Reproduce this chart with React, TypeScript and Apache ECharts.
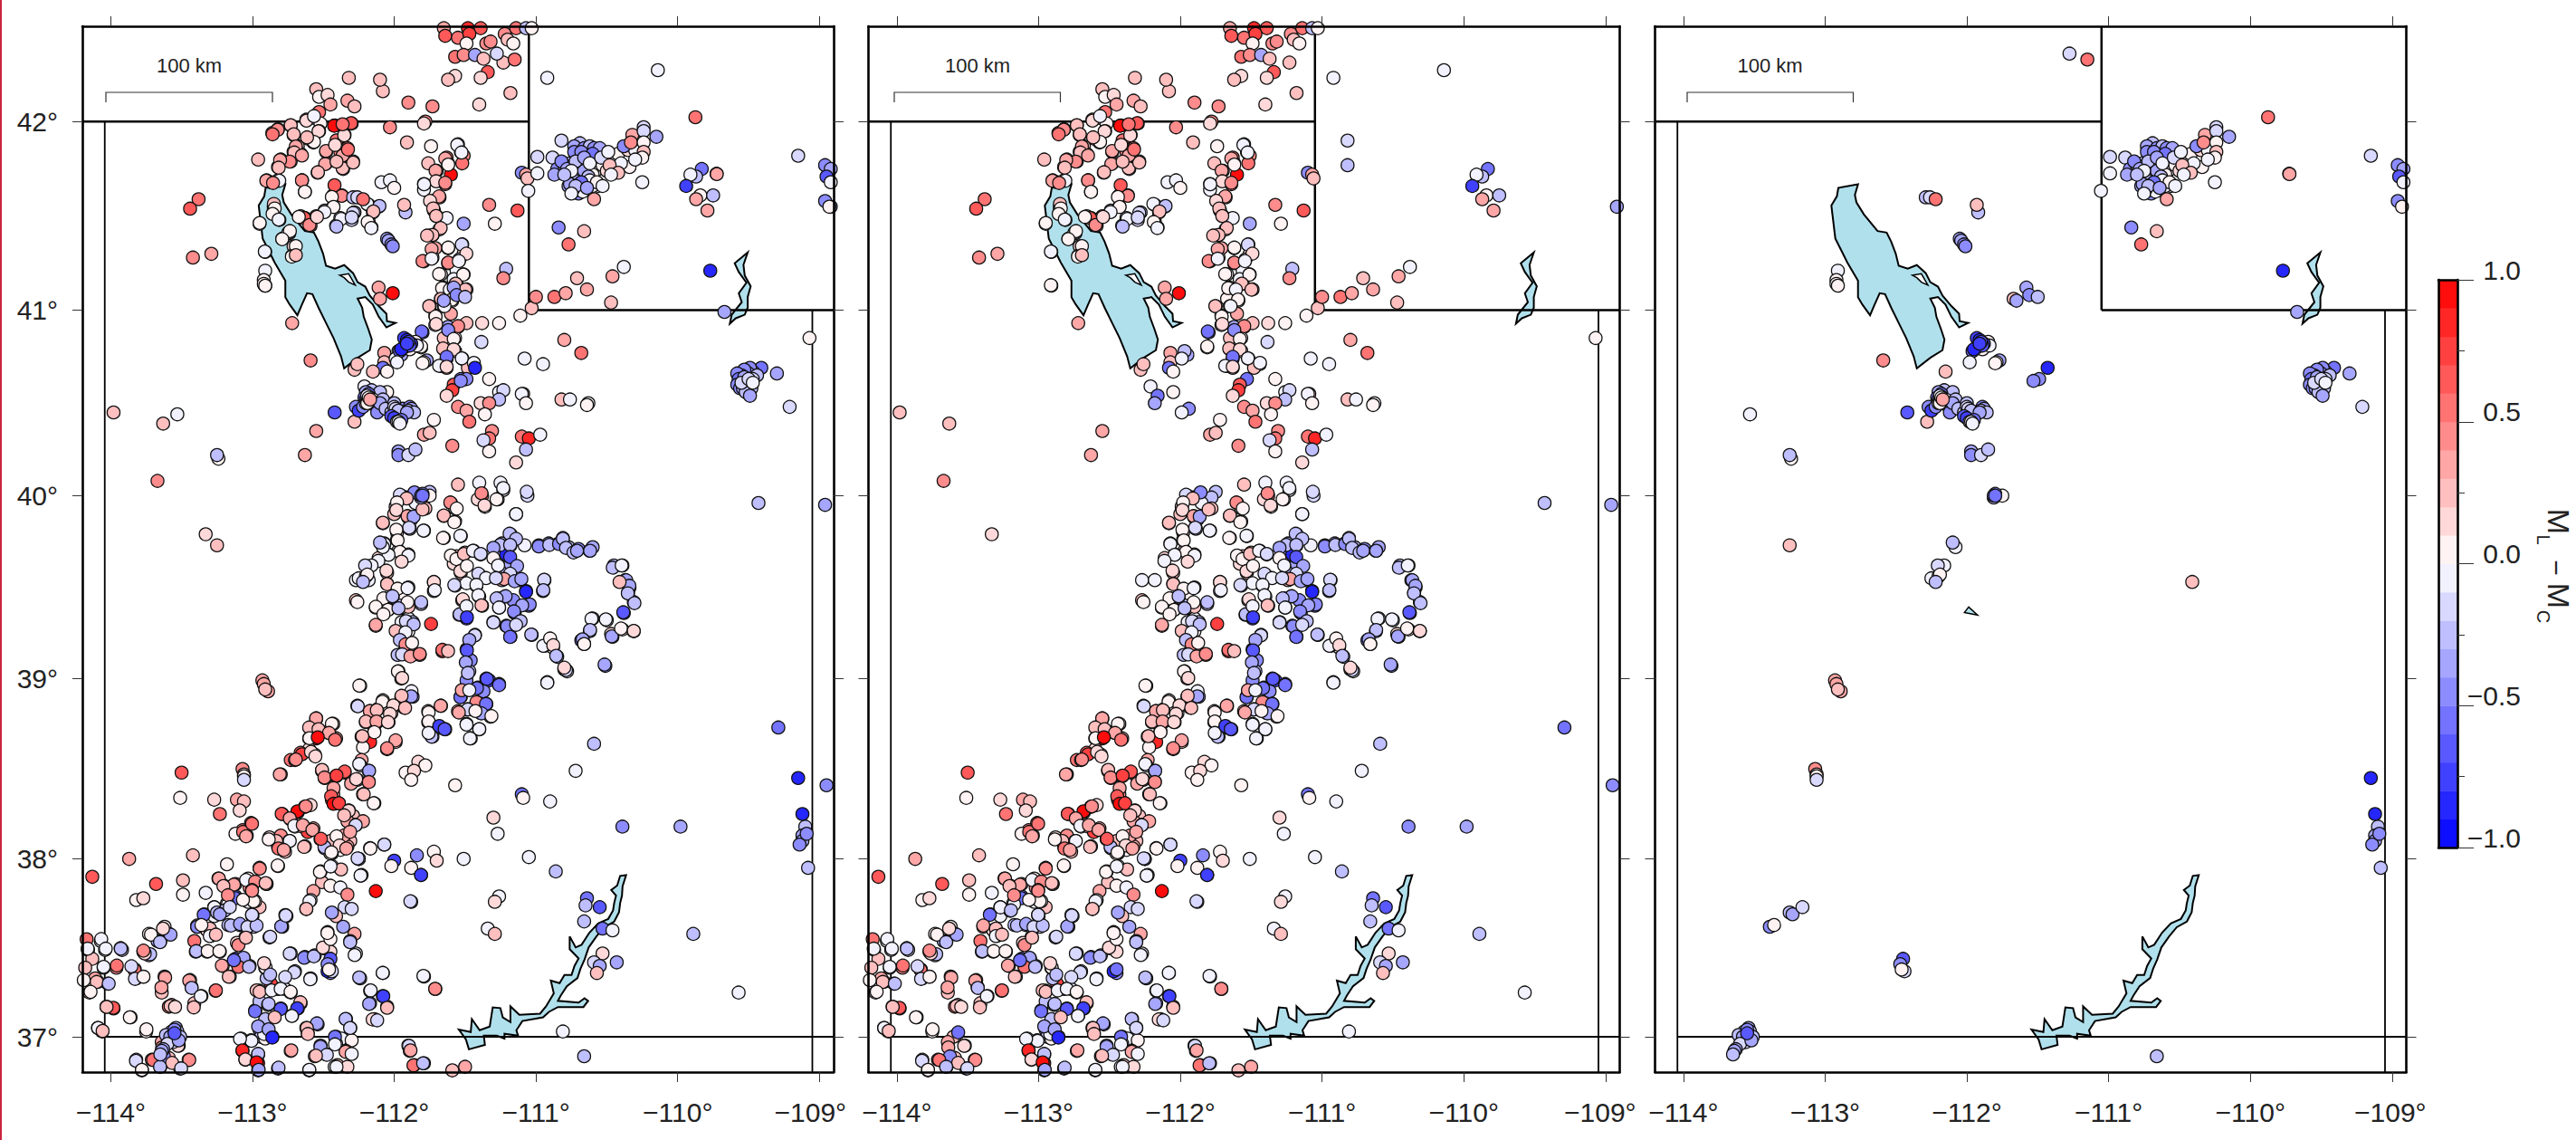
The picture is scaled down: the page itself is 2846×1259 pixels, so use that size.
import React, { useEffect, useRef } from "react";
import * as echarts from "echarts";

const lonTicks = [-114, -113, -112, -111, -110, -109];
const latTicks = [37, 38, 39, 40, 41, 42];
const colorbarTicks = [-1, -0.5, 0, 0.5, 1];
const colorbarEdges = [-1, -0.9, -0.8, -0.7, -0.6, -0.5, -0.4, -0.3, -0.2, -0.1, 0, 0.1, 0.2, 0.3, 0.4, 0.5, 0.6, 0.7, 0.8, 0.9, 1];

const greatSaltLake = [[-112.907,41.65],[-112.768,41.669],[-112.79,41.613],[-112.779,41.573],[-112.726,41.509],[-112.63,41.421],[-112.566,41.413],[-112.534,41.365],[-112.502,41.301],[-112.481,41.237],[-112.417,41.221],[-112.353,41.24],[-112.29,41.197],[-112.258,41.149],[-112.204,41.125],[-112.172,41.077],[-112.109,41.021],[-112.055,40.98],[-112.051,40.94],[-111.991,40.931],[-112.055,40.907],[-112.109,40.964],[-112.151,41.029],[-112.204,41.069],[-112.258,41.061],[-112.226,41.013],[-112.215,40.964],[-112.183,40.899],[-112.158,40.842],[-112.172,40.785],[-112.258,40.744],[-112.353,40.687],[-112.375,40.752],[-112.428,40.85],[-112.481,40.931],[-112.534,41.013],[-112.577,41.085],[-112.615,41.09],[-112.651,41.029],[-112.683,40.972],[-112.737,41.029],[-112.768,41.069],[-112.768,41.157],[-112.843,41.253],[-112.928,41.381],[-112.956,41.557],[-112.917,41.605]];
const saltLakeIsland = [[-112.385,41.186],[-112.321,41.194],[-112.275,41.133],[-112.321,41.149],[-112.353,41.173]];
const lakePowell = [[-110.364,37.909],[-110.389,37.846],[-110.393,37.795],[-110.406,37.753],[-110.414,37.701],[-110.448,37.649],[-110.519,37.618],[-110.573,37.566],[-110.628,37.504],[-110.657,37.436],[-110.686,37.384],[-110.707,37.332],[-110.782,37.286],[-110.824,37.234],[-110.845,37.203],[-110.699,37.193],[-110.657,37.218],[-110.632,37.203],[-110.665,37.168],[-110.845,37.168],[-110.908,37.141],[-110.95,37.11],[-111.096,37.089],[-111.138,37.037],[-111.126,37.006],[-111.222,37.017],[-111.222,36.99],[-111.276,37.006],[-111.368,37.006],[-111.36,36.954],[-111.473,36.929],[-111.494,36.985],[-111.544,37.041],[-111.46,37.027],[-111.452,37.1],[-111.397,37.037],[-111.326,37.058],[-111.305,37.166],[-111.251,37.162],[-111.234,37.11],[-111.18,37.083],[-111.18,37.172],[-111.117,37.124],[-110.971,37.131],[-110.929,37.172],[-110.874,37.245],[-110.895,37.317],[-110.833,37.303],[-110.799,37.349],[-110.749,37.349],[-110.728,37.4],[-110.699,37.442],[-110.762,37.494],[-110.762,37.566],[-110.72,37.504],[-110.678,37.519],[-110.623,37.587],[-110.561,37.639],[-110.49,37.664],[-110.456,37.712],[-110.448,37.753],[-110.435,37.795],[-110.469,37.826],[-110.427,37.851],[-110.406,37.905]];
const flamingGorge = [[-109.506,41.307],[-109.598,41.25],[-109.569,41.203],[-109.515,41.146],[-109.569,41.089],[-109.548,41.042],[-109.619,40.975],[-109.632,40.927],[-109.59,40.956],[-109.527,40.975],[-109.506,41.013],[-109.506,41.07],[-109.485,41.127],[-109.527,41.184],[-109.536,41.241]];
const smallReservoir = [[-112.017,39.363],[-111.987,39.393],[-111.925,39.349]];

const borderNorth = [[-114.3,42],[-111.05,42]];
const borderWyomingWest = [[-111.05,42.6],[-111.05,41]];
const borderWyomingSouth = [[-111.05,41],[-108.8,41]];
const borderWest = [[-114.042,42],[-114.042,36.7]];
const borderEast = [[-109.05,41],[-109.05,36.7]];
const borderSouth = [[-114.042,37],[-108.8,37]];

const tectonicNorth: number[][] = [[-111.65,42.49,.3],[-111.64,42.45,.6],[-111.55,42.44,.5],[-111.48,42.49,.8],[-111.39,42.49,.6],[-111.47,42.46,.7],[-111.49,42.41,.05],[-111.35,42.41,.4],[-111.32,42.42,.4],[-111.22,42.46,.4],[-111.2,42.43,.25],[-111.16,42.41,.05],[-111.14,42.49,.5],[-111.07,42.49,-.3],[-111.03,42.49,.05],[-111.57,42.34,.5],[-111.51,42.35,.4],[-111.43,42.35,-.4],[-111.37,42.33,.2],[-111.23,42.31,.25],[-111.34,42.26,.6],[-111.39,42.23,.1],[-111.57,42.24,.1],[-111.62,42.22,.25],[-111.18,42.15,.2],[-111.4,42.09,.15],[-111.73,42.08,.4],[-111.9,42.1,.45],[-112.08,42.16,.2],[-112.1,42.22,.2],[-112.32,42.23,.2],[-112.55,42.17,.2],[-112.53,42.13,.05],[-112.47,42.14,.15],[-112.45,42.09,.3],[-112.33,42.11,.3],[-112.28,42.08,.2],[-112.53,42.05,.5],[-112.57,42.02,-.15],[-112.62,42.01,.25],[-112.52,41.99,.05],[-112.73,41.98,.15],[-112.82,41.96,.4],[-112.86,41.94,.5],[-112.71,41.93,.2],[-112.53,41.95,.05],[-112.61,41.91,.2],[-112.57,41.89,.05],[-112.68,41.87,.2],[-112.71,41.84,.2],[-112.66,41.83,.3],[-112.8,41.8,.3],[-112.73,41.79,.4],[-112.82,41.76,.2],[-112.96,41.8,.2],[-112.9,41.69,.3],[-112.87,41.68,.3],[-112.82,41.69,-.05],[-112.65,41.69,.4],[-112.63,41.63,.05],[-112.42,41.98,.8],[-112.36,41.98,.5],[-112.3,41.99,.6],[-112.35,41.93,.15],[-112.4,41.9,.55],[-112.41,41.88,.05],[-112.33,41.86,.55],[-112.48,41.84,.3],[-112.38,41.84,.4],[-112.36,41.82,.3],[-112.29,41.79,.15],[-112.48,41.78,.25],[-112.54,41.73,.15],[-112.36,41.75,.2],[-112.03,41.97,.45],[-111.78,42,.45],[-111.79,41.99,.15],[-111.91,41.89,.2],[-111.74,41.87,.05],[-111.55,41.88,-.1],[-111.53,41.84,-.05],[-111.51,41.82,.4],[-111.63,41.81,.5],[-111.52,41.78,.55],[-111.62,41.78,.05],[-111.76,41.78,.2],[-111.7,41.74,.3],[-111.6,41.72,.9],[-111.64,41.67,.5],[-111.79,41.67,-.05],[-111.79,41.64,-.05],[-111.68,41.6,.4],[-111.74,41.58,.1],[-111.72,41.53,.25],[-111.7,41.5,.3],[-111.63,41.49,-.1],[-111.51,41.46,-.4],[-111.68,41.43,.15],[-111.73,41.4,.2],[-111.52,41.35,-.25],[-111.62,41.33,.05],[-111.51,41.3,.15],[-111.71,41.33,.3],[-111.79,41.26,.45],[-111.73,41.28,-.1],[-111.54,41.27,-.1],[-111.62,41.25,.4],[-111.56,41.21,-.1],[-111.51,41.19,.05],[-111.67,41.19,.05],[-111.56,41.14,.2],[-111.49,41.11,.25],[-111.65,41.12,-.02],[-111.62,41.11,.05],[-111.67,41.06,.05],[-111.59,41.05,.05],[-111.65,41.02,-.1],[-111.75,41.02,.2],[-111.6,40.98,.3],[-111.71,40.97,.05],[-111.71,40.92,.05],[-111.62,40.91,-.4],[-111.55,40.91,.45],[-111.49,40.93,.25],[-111.8,40.88,-.55],[-111.81,40.8,.1],[-111.57,40.85,.05],[-111.65,40.85,.25],[-111.57,40.78,.15],[-111.65,40.79,.2],[-111.63,40.74,-.55],[-111.52,40.74,-.15],[-111.44,40.71,-.05],[-111.67,40.7,-.02],[-111.63,40.69,.1],[-111.48,40.69,.25],[-111.53,40.63,-.55],[-111.58,40.6,.6],[-111.59,40.57,.7],[-111.63,40.54,.1],[-111.33,40.63,.05],[-111.26,40.56,-.05],[-111.23,40.57,-.2],[-111.26,40.52,-.25],[-111.39,40.5,.1],[-111.33,40.5,.4],[-111.36,40.44,.05],[-111.55,40.48,.45],[-111.49,40.46,.35],[-111.47,40.4,.5],[-111.72,40.41,.05],[-111.79,40.33,.3],[-111.75,40.34,.25],[-111.59,40.27,.45],[-111.31,40.35,.4],[-111.33,40.31,.5],[-111.37,40.3,-.2],[-111.33,40.24,.05],[-111.1,40.32,.5],[-111.05,40.31,.8],[-110.97,40.33,-.02],[-111.07,40.25,-.3],[-111.14,40.18,.1],[-111.09,40.55,.2],[-111.1,40.55,-.1],[-111.07,40.5,.02],[-110.82,40.52,.2],[-110.76,40.52,-.05],[-110.63,40.5,-.05],[-110.64,40.49,.02],[-111.08,40.74,-.05],[-110.95,40.71,-.05],[-110.8,40.84,.35],[-110.68,40.77,.55],[-111.38,40.93,.15],[-111.26,40.93,.05],[-111.11,40.97,.05],[-111.03,41.01,.2],[-111,41.07,.45],[-110.87,41.07,.55],[-110.79,41.09,.3],[-110.64,41.11,.3],[-110.71,41.17,.2],[-110.46,41.18,.3],[-110.38,41.23,-.05],[-110.47,41.04,.25],[-109.07,40.85,.05],[-111.21,41.22,-.25],[-111.23,41.17,.4],[-111.33,41.56,.4],[-111.13,41.53,.65],[-111.29,41.46,.05],[-111.1,41.73,-.5],[-111.07,41.72,.35],[-111.06,41.7,.2],[-110.92,42.23,-.1],[-110.14,42.27,-.02],[-110.82,41.9,-.15],[-110.82,41.77,-.25],[-109.83,41.75,-.55],[-109.87,41.71,-.25],[-109.91,41.72,-.05],[-109.94,41.66,-.75],[-109.84,41.61,.05],[-109.75,41.61,-.25],[-109.87,41.59,.3],[-109.79,41.53,.35],[-108.92,41.55,-.35],[-113.38,41.59,.5],[-113.44,41.54,.6],[-113.29,41.3,.3],[-113.42,41.28,.4],[-112.95,41.46,.05],[-112.91,41.31,-.05],[-112.91,41.13,.02],[-112.72,40.93,.35],[-112.85,41.55,.2],[-112.85,41.53,.1],[-112.81,41.48,-.1],[-112.66,41.5,.15],[-112.63,41.49,.6],[-112.59,41.45,.4],[-112.55,41.5,.15],[-112.49,41.53,-.1],[-112.43,41.55,.05],[-112.43,41.61,.05],[-112.37,41.61,.4],[-112.38,41.49,-.1],[-112.41,41.45,-.25],[-112.28,41.52,-.25],[-112.3,41.48,-.2],[-112.18,41.56,-.05],[-112.11,41.55,-.3],[-112.15,41.52,.25],[-112.18,41.47,.05],[-112.16,41.44,-.1],[-112.09,41.68,-.02],[-112.03,41.69,-.05],[-112,41.65,.02],[-112.74,41.41,.03],[-112.79,41.38,.1],[-112.71,41.34,.1],[-112.72,41.29,.03],[-112.11,41.12,.3],[-112.1,41.06,.3],[-112.01,41.09,.9],[-112.28,40.68,.2],[-112.26,40.71,.25],[-112.07,40.77,.35],[-112.07,40.72,.2],[-112.08,40.69,-.6],[-112.05,40.67,.05],[-111.95,40.76,-.35],[-111.97,40.78,-.3],[-111.99,40.74,-.05],[-112.21,40.59,-.1],[-112.16,40.54,-.6],[-112.18,40.5,-.35],[-112.05,40.56,.05],[-111.94,40.47,-.45],[-111.99,40.45,-.02],[-112.55,40.35,.3],[-112.63,40.22,.35],[-113.63,40.39,.2],[-113.98,40.45,.2],[-113.67,40.08,.4],[-113.33,39.79,.15]];

const tectonicNorthExtra: number[][] = [[-111.708,41.741,.3],[-111.64,41.805,.35],[-111.555,41.877,-.08],[-111.525,41.837,-.05],[-111.619,41.773,.05],[-111.704,41.685,.1],[-111.64,41.677,.4],[-111.789,41.669,-.1],[-111.683,41.605,.35],[-111.747,41.581,.1],[-111.725,41.541,.2],[-111.704,41.501,.2],[-111.672,41.437,.2],[-111.73,41.4,.2],[-111.768,41.397,.2],[-111.736,41.325,.3],[-111.619,41.333,.05],[-111.523,41.349,-.2],[-111.491,41.301,.1],[-111.8,41.261,.4],[-111.736,41.274,-.1],[-111.619,41.253,.4],[-111.544,41.261,-.1],[-111.683,41.192,.05],[-111.581,41.165,-.1],[-111.513,41.189,.05],[-111.566,41.141,.2],[-111.498,41.109,.25],[-111.662,41.117,.05],[-111.608,41.109,-.05],[-111.593,41.056,.05],[-111.753,41.021,.2],[-111.645,41.021,-.08],[-111.708,40.965,.05],[-111.704,40.925,.1],[-111.549,40.914,.45],[-111.619,40.893,-.5],[-111.806,40.885,-.55],[-111.58,40.845,.05],[-111.385,40.829,-.2],[-111.81,40.805,.05],[-111.655,40.794,.25],[-111.58,40.789,.1],[-111.523,40.741,-.08],[-111.63,40.749,-.55],[-111.438,40.717,-.1],[-111.683,40.701,-.05],[-111.63,40.696,.1],[-112.822,41.957,.4],[-112.858,41.933,.5],[-112.73,41.981,.2],[-112.709,41.933,.25],[-112.619,42.005,.1],[-112.566,42.029,-.1],[-112.534,41.949,.1],[-112.566,41.893,.08],[-112.615,41.917,.2],[-112.694,41.869,.3],[-112.705,41.837,.25],[-112.651,41.821,.35],[-112.737,41.789,.45],[-112.805,41.797,.3],[-112.815,41.757,.2],[-112.481,41.845,.35],[-112.487,41.776,.3],[-112.538,41.733,.25],[-112.364,41.754,.2],[-112.29,41.784,.2],[-112.364,41.821,.3],[-112.326,41.853,.5],[-112.407,41.901,.55],[-112.353,41.928,.15],[-112.424,41.978,.9],[-112.304,41.992,.6],[-112.364,41.986,.5],[-112.417,41.877,.1],[-112.407,41.789,.2],[-112.902,41.688,.35],[-112.811,41.688,-.08],[-112.855,41.676,.4],[-112.651,41.69,.4],[-112.63,41.629,.05],[-112.421,41.664,.6],[-112.37,41.608,.45],[-112.44,41.602,.05],[-112.428,41.549,.05],[-112.492,41.522,-.05],[-112.636,41.49,.6],[-112.598,41.453,.45],[-112.673,41.496,.05],[-112.545,41.496,.15],[-112.29,41.517,-.2],[-112.374,41.485,-.1],[-112.3,41.493,-.15],[-112.407,41.445,-.25],[-112.19,41.565,-.05],[-112.104,41.554,-.3],[-112.147,41.525,.25],[-112.187,41.469,.05],[-112.162,41.437,-.1],[-112.849,41.565,.2],[-112.843,41.541,.08],[-112.858,41.512,.05],[-112.815,41.482,-.1],[-112.949,41.464,.05],[-112.747,41.413,.05],[-112.736,41.421,.02],[-112.79,41.378,.05],[-112.694,41.341,.05],[-112.722,41.285,.05],[-112.694,41.293,.2],[-112.913,41.312,-.05],[-112.913,41.133,.02]];

const tectonicCentral: number[][] = [[-111.55,40.06,.2],[-111.4,40.07,-.05],[-111.25,40.07,-.05],[-111.23,40.03,-.05],[-111.06,40,-.15],[-111.38,40,.5],[-111.27,39.98,.05],[-111.41,39.98,.1],[-111.36,39.94,.05],[-111.14,39.9,-.02],[-111.6,39.96,.4],[-111.57,39.93,.05],[-111.65,39.89,.25],[-111.57,39.86,.1],[-111.53,39.78,.02],[-111.65,39.77,.05],[-111.75,40.02,-.3],[-111.85,40,-.5],[-111.78,39.99,-.25],[-111.95,40,-.25],[-111.91,39.99,.25],[-111.85,39.96,-.1],[-111.99,39.94,.1],[-111.78,39.93,.2],[-111.99,39.91,.05],[-112,39.9,.2],[-111.9,39.88,.35],[-111.88,39.87,-.4],[-112.08,39.85,.2],[-111.98,39.8,.1],[-111.89,39.82,-.25],[-111.79,39.81,-.1],[-112.07,39.74,-.05],[-111.98,39.76,.05],[-111.97,39.7,.1],[-112.04,39.68,-.05],[-111.9,39.68,.1],[-112.11,39.66,.1],[-111.56,39.67,.1],[-111.5,39.69,.2],[-111.44,39.7,-.1],[-111.39,39.68,-.2],[-111.18,39.79,-.45],[-111.24,39.74,-.3],[-111.18,39.73,-.35],[-111.26,39.71,-.35],[-111.21,39.68,-.85],[-111.08,39.73,-.05],[-110.98,39.73,-.55],[-110.91,39.74,-.35],[-110.84,39.74,-.6],[-110.81,39.77,-.3],[-110.77,39.72,-.25],[-110.7,39.71,-.45],[-110.62,39.7,-.5],[-110.6,39.72,-.35],[-109.43,39.96,-.3],[-108.96,39.95,-.35],[-110.45,39.62,-.25],[-110.39,39.62,-.05],[-110.37,39.54,-.35],[-110.34,39.5,-.5],[-110.35,39.47,-.3],[-110.31,39.42,-.3],[-110.38,39.36,-.75],[-110.5,39.32,-.02],[-110.6,39.33,-.05],[-110.62,39.26,-.25],[-110.68,39.21,-.55],[-110.66,39.19,.05],[-110.46,39.23,-.45],[-110.39,39.27,.1],[-110.31,39.26,.2],[-110.51,39.07,-.5],[-110.92,38.98,-.05],[-110.78,39.04,-.1],[-110.8,39.05,.1],[-110.85,39.12,-.3],[-110.88,39.17,.05],[-110.9,39.21,.1],[-110.94,39.18,-.05],[-111.03,39.24,-.15],[-111.18,39.23,-.7],[-111.21,39.29,-.55],[-111.15,39.36,-.55],[-111.3,39.31,-.3],[-111.05,39.4,-.6],[-111.16,39.43,-.45],[-111.07,39.48,-.9],[-111.11,39.54,-.45],[-110.94,39.54,-.15],[-110.95,39.48,-.35],[-111.22,39.45,-.5],[-111.27,39.44,-.5],[-111.26,39.39,-.05],[-111.22,39.61,-.3],[-111.18,39.63,-.4],[-111.24,39.54,.2],[-111.38,39.4,.4],[-111.4,39.45,-.02],[-111.52,39.43,.3],[-111.57,39.51,-.2],[-111.42,39.51,-.1],[-111.4,39.57,-.2],[-111.53,39.58,.2],[-111.58,39.63,.1],[-111.54,39.35,-.25],[-111.49,39.33,-.7],[-111.74,39.3,.7],[-111.72,39.53,.3],[-111.72,39.48,-.05],[-111.81,39.41,-.2],[-111.9,39.4,.45],[-111.99,39.43,-.3],[-111.9,39.33,-.1],[-111.92,39.31,-.2],[-111.87,39.31,-.3],[-112.13,39.29,.3],[-111.9,39.26,.05],[-111.97,39.26,.2],[-111.95,39.21,-.25],[-111.9,39.19,.1],[-111.94,39.14,-.15],[-111.88,39.13,.3],[-111.82,39.13,.45],[-112.05,39.58,.2],[-112.05,39.52,.15],[-111.9,39.5,.05],[-111.95,39.47,.05],[-112.01,39.45,.1],[-112.07,39.44,.02],[-112.13,39.39,.05],[-112.04,39.38,.05],[-112.27,39.54,-.05],[-112.18,39.54,-.05],[-112.27,39.43,.2],[-112.26,39.42,.05],[-111.66,39.15,.6],[-111.49,39.16,-.7],[-111.46,39.1,-.5],[-111.43,39.24,-.2],[-111.47,39.04,-.3],[-111.35,39,-.7],[-111.33,38.99,-.75],[-111.26,38.97,-.6],[-111.41,38.95,-.7],[-111.37,38.93,-.5],[-111.49,38.99,-.45],[-111.52,38.93,.35],[-111.53,38.9,-.75],[-111.35,38.86,-.6],[-111.42,38.87,.4],[-111.48,38.83,-.2],[-111.55,38.82,.35],[-111.39,38.81,-.4],[-111.32,38.79,.05],[-111.49,38.75,-.02],[-111.4,38.72,-.02],[-111.46,38.67,-.02],[-111.67,38.85,.5],[-111.76,38.82,.05],[-111.76,38.76,.05],[-111.64,38.72,-.7],[-111.68,38.73,-.5],[-111.73,38.68,-.25],[-111.97,39.04,.05],[-111.95,39,.15],[-112.24,38.96,.05],[-111.87,38.9,-.4],[-111.95,38.9,.2],[-112.08,38.88,.05],[-112.26,38.85,-.25],[-111.93,38.84,.2],[-112.02,38.81,.1],[-112.12,38.83,.2],[-112.17,38.82,.25],[-112.04,38.76,.15],[-112.12,38.76,.3],[-112.2,38.76,.3],[-112.14,38.71,.05],[-112.23,38.68,.2],[-112.17,38.65,.8],[-112.22,38.62,.05],[-111.99,38.65,.25],[-112.05,38.61,.4],[-112.23,38.55,.3],[-112.24,38.52,-.05],[-112.18,38.49,-.45],[-111.83,38.54,.15],[-111.78,38.52,.05],[-111.92,38.48,.05],[-111.86,38.49,.1],[-111.88,38.44,.05],[-111.57,38.41,.05],[-110.72,38.49,-.02],[-110.59,38.64,-.3],[-109.29,38.73,-.6],[-108.95,38.41,-.5],[-111.1,38.36,-.55],[-111.09,38.34,.02],[-110.9,38.32,-.05],[-110.39,38.18,-.45],[-109.98,38.18,-.4],[-111.3,38.23,.1],[-111.27,38.14,-.02],[-111.05,38.01,-.02],[-111.51,38,-.05],[-110.86,37.93,-.3],[-111.26,37.79,-.05],[-111.29,37.76,.15],[-111.34,37.61,-.05],[-111.29,37.58,.2],[-109.89,37.58,-.25],[-109.57,37.25,-.05],[-110.81,37.03,-.05],[-110.64,37.78,-.55],[-110.65,37.74,-.3],[-110.66,37.65,-.25],[-110.55,37.73,-.65],[-110.53,37.61,-.6],[-110.46,37.6,-.02],[-110.53,37.47,.1],[-110.59,37.42,-.2],[-110.55,37.4,-.35],[-110.43,37.42,-.35],[-110.57,37.36,.2]];

const tectonicCentralExtra: number[][] = [[-111.857,40.018,-.45],[-111.96,40.005,-.15],[-111.912,39.985,.2],[-111.98,39.963,.05],[-111.985,39.922,.1],[-111.906,39.889,.35],[-111.863,39.886,-.35],[-111.8,39.925,.2],[-112.08,39.853,.2],[-111.895,39.826,-.2],[-111.793,39.81,-.05],[-111.985,39.815,.05],[-111.976,39.757,.05],[-112.07,39.737,-.08],[-111.96,39.694,.05],[-111.9,39.674,-.05],[-112.04,39.678,-.1],[-112.112,39.645,-.1],[-111.948,39.641,.1],[-112.055,39.592,.1],[-112.05,39.518,.2],[-111.976,39.493,.05],[-111.906,39.496,-.1],[-111.72,39.529,.15],[-111.714,39.485,-.05],[-112.076,39.44,.05],[-112.13,39.394,.05],[-112.044,39.377,.08],[-112.076,39.353,.05],[-112.012,39.452,-.3],[-111.81,39.419,-.25],[-111.9,39.394,.25],[-111.906,39.419,.08],[-111.97,39.386,-.3],[-111.948,39.31,-.1],[-111.917,39.315,-.15],[-111.863,39.298,-.3],[-111.99,39.262,.2],[-111.92,39.254,-.05],[-112.13,39.295,.3],[-111.96,39.212,-.3],[-111.92,39.188,.4],[-111.874,39.196,.05],[-111.976,39.13,-.25],[-111.944,39.133,-.15],[-111.885,39.122,.3],[-111.82,39.135,.4],[-111.66,39.158,.55],[-111.62,39.151,.2],[-111.974,39.039,.05],[-111.944,39.003,.15],[-112.246,38.961,.03],[-111.878,38.93,-.05],[-111.88,38.902,-.35],[-111.948,38.905,.2],[-112.257,38.847,-.2],[-112.083,38.872,.05],[-112.006,38.852,.15],[-112.172,38.821,.3],[-112.123,38.826,.2],[-112.03,38.805,.15],[-111.923,38.838,.2],[-112.2,38.763,.25],[-112.125,38.763,.3],[-112.044,38.76,.15],[-112.14,38.704,.05],[-112.225,38.682,.2],[-111.99,38.659,.3],[-112.05,38.615,.4],[-111.604,39.963,.45],[-111.559,39.93,.05],[-111.65,39.892,.25],[-111.576,39.856,.08],[-111.655,39.77,.05],[-111.533,39.782,-.1],[-111.384,40.013,.45],[-111.363,39.947,.1],[-111.278,39.98,.05],[-111.231,40.041,-.05],[-111.065,40.021,-.15],[-111.14,39.9,-.05],[-111.6,39.674,.05],[-111.561,39.655,.08],[-111.508,39.683,.2],[-111.444,39.7,-.1],[-111.39,39.683,-.15],[-111.533,39.589,.15],[-111.487,39.617,.05],[-111.406,39.575,-.2],[-111.352,39.551,-.1],[-111.49,39.523,-.05],[-111.42,39.514,-.08],[-111.576,39.513,-.2],[-111.516,39.435,.15],[-111.406,39.457,-.05],[-111.384,39.402,.25],[-111.538,39.353,-.3],[-111.49,39.397,-.05],[-111.487,39.336,-.8],[-111.186,39.793,-.25],[-111.14,39.765,-.3],[-111.252,39.732,-.3],[-111.182,39.732,-.3],[-111.3,39.716,-.35],[-111.182,39.666,-.7],[-111.3,39.66,.05],[-111.267,39.62,-.08],[-111.133,39.617,-.35],[-111.182,39.575,-.15],[-111.225,39.546,.3],[-111.282,39.551,-.2],[-111.15,39.534,-.4],[-111.103,39.546,-.35],[-111.214,39.452,-.4],[-111.278,39.44,-.3],[-111.07,39.476,-.85],[-111.044,39.407,-.5],[-111.097,39.402,-.35],[-111.26,39.39,-.08],[-111.155,39.369,-.45],[-111.108,39.315,-.3],[-111.203,39.287,-.45],[-111.14,39.295,-.2],[-111.3,39.308,-.2],[-111.182,39.229,-.6],[-110.98,39.724,-.5],[-110.906,39.732,-.25],[-110.837,39.737,-.45],[-110.81,39.765,-.25],[-110.788,39.716,-.3],[-110.735,39.691,-.3],[-110.71,39.7,-.35],[-110.618,39.7,-.4],[-110.942,39.542,-.15],[-110.948,39.485,-.3],[-110.458,39.608,-.3],[-110.395,39.62,-.05],[-110.363,39.539,-.4],[-110.341,39.509,-.4],[-110.352,39.468,-.25],[-110.305,39.414,-.25],[-110.384,39.364,-.7],[-110.608,39.328,-.05],[-110.507,39.325,-.08],[-110.618,39.267,-.25],[-110.671,39.216,-.4],[-110.66,39.19,.05],[-110.47,39.245,.15],[-110.465,39.232,-.35],[-110.4,39.275,.05],[-110.31,39.262,.15],[-111.033,39.242,-.25],[-110.948,39.18,-.08],[-110.9,39.22,.08],[-110.878,39.183,.1],[-110.857,39.125,-.25],[-110.788,39.047,-.15],[-110.8,39.06,.1],[-110.516,39.077,-.35],[-110.92,38.977,-.05],[-111.431,39.237,-.15],[-111.47,39.212,-.4],[-111.487,39.155,-.65],[-111.495,39.089,-.35],[-111.48,39.031,-.25],[-111.346,38.998,-.65],[-111.26,38.964,-.6],[-111.416,38.947,-.6],[-111.533,38.897,-.55],[-111.523,38.936,.3],[-111.47,38.936,-.1],[-111.352,38.86,-.6],[-111.672,38.85,.35],[-111.757,38.813,.05],[-111.757,38.763,.08],[-111.736,38.679,-.25],[-111.757,38.7,-.1],[-111.682,38.738,-.75],[-111.644,38.721,-.65],[-111.48,38.83,-.2],[-111.384,38.808,-.4],[-111.427,38.821,.05],[-111.314,38.793,.05],[-111.544,38.813,.3],[-111.49,38.746,-.05],[-111.4,38.721,-.05],[-111.465,38.67,-.05]];

const tectonicSouth: number[][] = [[-112.55,38.78,.25],[-112.55,38.72,.2],[-112.43,38.75,.1],[-112.46,38.7,.4],[-112.41,38.67,.3],[-112.55,38.67,.95],[-112.6,38.67,.05],[-112.6,38.61,.1],[-112.66,38.59,.5],[-112.73,38.55,.5],[-112.7,38.55,.3],[-112.56,38.58,.1],[-112.46,38.71,.5],[-112.51,38.49,.2],[-112.49,38.45,.4],[-112.41,38.46,.7],[-112.35,38.48,.6],[-112.3,38.43,.3],[-112.26,38.44,.2],[-112.43,38.36,.4],[-112.44,38.33,.7],[-112.39,38.31,.8],[-112.42,38.31,.9],[-112.14,38.31,.05],[-112.22,38.36,.3],[-112.18,38.43,.45],[-112.32,38.27,.1],[-112.29,38.24,.2],[-112.33,38.21,.3],[-112.27,38.19,-.25],[-112.34,38.13,.4],[-112.31,38.1,.25],[-112.38,38.12,.1],[-112.22,38.21,.3],[-112.33,38.07,.3],[-112.38,38.05,.05],[-112.45,38.1,.2],[-112.25,38,-.1],[-112.44,38.03,.02],[-112.07,38.08,-.3],[-112.17,38.06,.05],[-111.84,38.02,-.5],[-111.72,38.04,.05],[-111.7,37.99,.1],[-112,37.99,-.8],[-112.02,37.96,.05],[-111.88,37.95,.02],[-111.81,37.91,-.8],[-112.13,37.82,.95],[-112.23,37.91,-.05],[-111.88,37.76,-.25],[-112.25,38,-.2],[-112.82,37.96,.05],[-112.95,37.95,.35],[-113.18,37.97,.05],[-113.42,38.02,.2],[-113.87,38,.35],[-113.5,38.48,.6],[-113.51,38.34,.05],[-113.27,38.33,.1],[-113.11,38.33,.35],[-113.06,38.32,.2],[-113.09,38.27,.15],[-113.23,38.25,.5],[-113.01,38.2,.55],[-113.07,38.16,.45],[-113.12,38.14,.05],[-113.04,38.13,.2],[-112.8,38.47,.5],[-112.88,38.12,.1],[-112.82,38.07,.5],[-112.8,38.13,.4],[-112.74,38.1,-.1],[-112.77,38.04,.2],[-112.79,38.25,.55],[-112.68,38.26,.95],[-112.63,38.29,.4],[-112.73,38.22,.25],[-112.59,38.3,.1],[-112.7,38.18,-.05],[-112.65,38.18,.35],[-112.57,38.17,.3],[-112.61,38.15,.7],[-112.52,38.11,.55],[-112.63,38.07,.2],[-112.49,38.06,-.25],[-112.45,38.03,.05],[-112.44,37.96,-.05],[-112.52,37.93,.05],[-112.51,37.87,.25],[-112.57,37.82,.3],[-112.45,37.85,.05],[-112.38,37.84,-.02],[-112.33,37.8,.4],[-112.35,37.73,-.2],[-112.3,37.72,-.2],[-112.59,37.77,-.1],[-112.62,37.72,.3],[-112.41,37.68,.2],[-112.44,37.7,-.35],[-112.36,37.62,-.35],[-112.47,37.59,.1],[-112.28,37.58,.3],[-112.31,37.54,-.4],[-112.27,37.47,-.05],[-112.5,37.5,.2],[-112.45,37.48,.1],[-112.56,37.46,-.3],[-112.63,37.45,-.55],[-112.73,37.47,-.2],[-112.88,37.56,-.15],[-112.79,37.62,-.5],[-112.76,37.68,-.1],[-112.45,37.36,-.45],[-112.47,37.37,-.85],[-112.24,37.33,-.3],[-112.08,37.36,-.02],[-112.17,37.26,-.1],[-112.08,37.23,-.75],[-112.17,37.19,-.4],[-112.05,37.17,.2],[-112.14,37.1,.1],[-111.79,37.34,-.02],[-111.71,37.27,.45],[-112.34,37.1,-.3],[-112.31,37.05,-.15],[-112.54,37.07,-.35],[-112.62,37.05,.4],[-112.61,37.02,.2],[-112.41,37,-.6],[-112.37,36.99,-.1],[-112.3,36.98,.05],[-112.52,36.95,-.3],[-112.41,36.96,-.05],[-112.48,36.9,-.15],[-112.34,36.92,.4],[-112.56,36.89,.25],[-112.4,36.84,.2],[-112.42,36.83,-.05],[-112.33,36.83,.1],[-112.6,36.81,-.05],[-111.9,36.95,-.2],[-111.89,36.92,.35],[-111.86,36.84,.5],[-111.79,36.85,-.25],[-111.59,36.81,.2],[-111.5,36.83,.35],[-112.82,36.82,-.4],[-112.73,36.92,.3],[-112.86,37,-.85],[-112.9,37.04,-.5],[-112.95,37.04,-.45],[-112.94,37,-.25],[-113.01,36.98,-.05],[-113.08,36.99,-.1],[-112.91,36.99,.02],[-112.91,37.1,-.3],[-112.98,37.15,-.6],[-112.95,37.2,-.3],[-112.89,37.18,-.2],[-112.8,37.16,-.8],[-112.68,37.16,-.9],[-112.72,37.12,-.02],[-112.82,37.27,.05],[-112.77,37.27,-.1],[-112.73,37.25,.1],[-112.95,37.26,.2],[-112.87,37.3,.7],[-112.66,37.19,.3],[-113.07,36.92,.85],[-112.96,36.9,-.2],[-113.05,36.87,.2],[-112.96,36.85,.95],[-112.96,36.81,-.3],[-112.9,37.33,-.3],[-112.59,37.33,-.05],[-112.7,37.37,-.2],[-112.91,37.39,.02],[-114.13,37.9,.65],[-113.68,37.86,.6],[-113.49,37.88,.2],[-113.49,37.8,.05],[-113.82,37.77,.05],[-113.77,37.78,.1],[-113.33,37.81,-.1],[-113.24,37.89,.35],[-113.2,37.85,.3],[-113.12,37.86,.4],[-113.12,37.79,-.6],[-113.18,37.75,-.2],[-113.03,37.89,.05],[-112.99,37.87,.5],[-113.02,37.84,.4],[-112.9,37.86,.4],[-112.99,37.77,.1],[-113.03,37.76,-.05],[-112.95,37.73,.2],[-113,37.68,-.2],[-113.27,37.73,-.2],[-113.34,37.69,-.65],[-113.27,37.68,-.05],[-113.2,37.71,-.2],[-113.39,37.62,.3],[-113.32,37.6,.15],[-113.29,37.57,-.02],[-113.4,37.48,-.25],[-113.32,37.48,.05],[-113.23,37.48,.1],[-113.41,37.54,.5],[-113.17,37.63,-.3],[-113.09,37.63,-.5],[-113.04,37.61,-.3],[-112.99,37.62,-.2],[-113.05,37.56,.2],[-113.11,37.53,.15],[-113.06,37.44,-.55],[-113.12,37.44,-.7],[-113.21,37.4,.3],[-113.1,37.4,.6],[-113.02,37.4,-.3],[-113.16,37.34,.1],[-113.62,37.62,.05],[-113.59,37.58,-.35],[-113.65,37.54,-.3],[-113.73,37.58,.05],[-113.67,37.54,-.4],[-113.77,37.48,.4],[-113.73,37.46,-.2],[-113.83,37.38,.5],[-113.82,37.33,-.2],[-113.77,37.34,.05],[-113.93,37.5,-.25],[-113.92,37.49,-.2],[-113.96,37.39,.4],[-114.05,37.39,-.02],[-114.04,37.49,-.05],[-114.07,37.54,-.1],[-114.16,37.49,-.1],[-114.17,37.55,.5],[-114.13,37.44,.2],[-114.18,37.39,.2],[-114.09,37.31,.35],[-114.11,37.33,.3],[-114.19,37.32,.02],[-114.15,37.25,.1],[-114.02,37.3,-.3],[-114.03,37.17,.2],[-113.98,37.16,.6],[-113.86,37.11,.02],[-114.09,37.05,-.1],[-114.06,37.03,.3],[-113.75,37.03,.05],[-113.64,37.25,.25],[-113.62,37.34,.3],[-113.44,37.32,.3],[-113.43,37.28,-.25],[-113.36,37.23,-.02],[-113.41,37.19,.2],[-113.26,37.26,.6],[-113.57,37.18,.2],[-113.59,37.17,.5],[-113.57,37.02,-.5],[-113.6,37,.2],[-113.64,36.97,.3],[-113.52,36.95,.1],[-113.82,36.87,-.1],[-113.71,36.87,.45],[-113.63,36.86,-.4],[-113.59,36.88,.2],[-113.45,36.87,.45],[-113.65,36.83,-.25],[-113.51,36.82,-.2],[-113.78,36.81,.05]];

const tectonicSouthExtra: number[][] = [[-112.551,38.78,.3],[-112.44,38.75,.05],[-112.6,38.73,.25],[-112.534,38.721,.2],[-112.46,38.7,.35],[-112.598,38.671,.05],[-112.539,38.676,.95],[-112.417,38.662,.5],[-112.651,38.582,.7],[-112.694,38.553,.4],[-112.587,38.595,.1],[-112.556,38.57,.1],[-112.807,38.47,.35],[-112.509,38.495,.2],[-112.492,38.453,.4],[-112.349,38.486,.6],[-112.407,38.464,.7],[-112.304,38.419,.3],[-112.268,38.444,.15],[-112.247,38.528,-.1],[-112.177,38.49,-.4],[-112.179,38.428,.45],[-112.215,38.36,.2],[-112.145,38.31,.05],[-112.428,38.394,.3],[-112.445,38.349,.65],[-112.428,38.307,.95],[-112.39,38.31,.7],[-112.321,38.268,.1],[-112.353,38.243,.2],[-112.272,38.188,-.2],[-112.353,38.131,.35],[-112.407,38.126,.05],[-112.311,38.151,.3],[-112.385,38.075,.15],[-112.338,38.058,.35],[-112.492,38.067,-.25],[-112.443,38.037,.05],[-112.07,38.08,-.2],[-112.168,38.058,.05],[-112.258,38.003,-.15],[-112.236,37.907,-.05],[-112.524,37.927,.08],[-112.375,37.941,.2],[-112.449,37.958,-.1],[-112.794,38.251,.6],[-112.683,38.265,.95],[-112.624,38.293,.4],[-112.737,38.226,.3],[-112.705,38.184,-.05],[-112.645,38.188,.3],[-112.577,38.162,.3],[-112.517,38.112,.6],[-112.636,38.067,.2],[-112.737,38.1,-.1],[-112.832,38.1,.2],[-112.885,38.109,.05],[-112.817,38.058,.5],[-112.779,38.05,.3],[-113.066,38.151,.5],[-113.003,38.196,.55],[-113.045,38.126,.3],[-112.949,37.946,.4],[-112.822,37.963,.05],[-112.598,37.763,-.05],[-112.62,37.72,.2],[-112.768,37.686,-.2],[-112.796,37.622,-.35],[-113.045,37.882,-.1],[-112.981,37.873,.4],[-112.902,37.86,.35],[-113.003,37.826,.3],[-112.981,37.763,.05],[-113.003,37.686,-.2],[-113.12,37.78,-.55],[-113.173,37.746,-.1],[-113.269,37.729,-.1],[-113.344,37.687,-.6],[-113.195,37.712,-.25],[-113.152,37.627,-.3],[-113.088,37.636,-.35],[-113.035,37.619,-.2],[-112.971,37.627,-.3],[-113.003,37.687,-.15],[-112.992,37.763,.05],[-113.067,37.771,.05],[-113.003,37.822,.4],[-112.907,37.865,.2],[-113.131,37.856,.35],[-113.237,37.89,.3],[-113.205,37.848,.2],[-113.173,37.797,.4],[-113.39,37.627,.3],[-113.301,37.61,.2],[-113.301,37.568,-.05],[-113.397,37.483,-.3],[-113.316,37.483,.05],[-113.233,37.483,.05],[-113.258,37.576,.2],[-113.099,37.517,.45],[-113.046,37.559,.2],[-113.063,37.446,-.4],[-113.099,37.395,.55],[-113.024,37.395,-.3],[-113.131,37.432,-.6],[-113.216,37.402,.35],[-113.167,37.339,.25],[-113.258,37.262,.55],[-112.875,37.564,-.2],[-112.797,37.622,-.35],[-112.765,37.683,-.15],[-112.737,37.469,-.2],[-112.635,37.446,-.45],[-112.567,37.454,-.3],[-112.503,37.503,.15],[-112.45,37.551,.05],[-112.471,37.585,.03],[-112.311,37.534,-.25],[-112.279,37.461,-.05],[-112.45,37.381,-.6],[-112.247,37.335,-.3],[-112.592,37.325,-.05],[-112.705,37.364,-.2],[-112.769,37.337,-.2],[-112.907,37.39,.05],[-112.875,37.351,-.3],[-112.918,37.415,.1],[-112.971,37.262,.25],[-112.95,37.254,.25],[-112.865,37.262,-.05],[-112.801,37.271,-.08],[-112.731,37.254,.05],[-112.662,37.195,.2],[-112.684,37.161,-.8],[-112.801,37.157,-.7],[-112.722,37.118,-.05],[-112.886,37.186,-.25],[-112.982,37.144,-.55],[-112.843,37.11,.2],[-112.918,37.016,-.05],[-112.96,37.059,-.4],[-112.886,37.042,-.4],[-112.86,36.996,-.85],[-113.007,36.977,-.05],[-113.088,36.988,-.05],[-113.071,36.923,.85],[-113.05,36.872,.15],[-112.96,36.903,-.3],[-112.971,36.855,.95],[-112.956,36.813,-.35],[-112.816,36.825,-.3],[-112.726,36.923,.3],[-112.545,37.076,-.35],[-112.616,37.05,.2],[-112.609,37.016,.25],[-112.418,37,-.6],[-112.343,37.101,-.25],[-112.311,37.05,-.15],[-112.418,36.957,-.05],[-112.52,36.943,-.35],[-112.475,36.898,-.15],[-112.552,36.893,.2],[-112.343,36.915,.35],[-112.3,36.903,-.1],[-112.407,36.83,-.05],[-112.599,36.813,-.05],[-112.237,37.907,-.05],[-111.811,37.91,-.8],[-111.886,37.763,-.2],[-112.081,37.361,-.05],[-112.166,37.262,-.05],[-112.077,37.229,-.8],[-112.177,37.186,-.35],[-112.05,37.164,.2],[-112.152,37.098,.1],[-112.12,37.093,-.15],[-111.794,37.344,-.05],[-111.711,37.271,.45],[-111.896,36.949,-.2],[-111.885,36.923,.35],[-111.864,36.838,.5],[-111.796,36.85,-.25],[-114.067,37.551,-.1],[-114.163,37.497,-.1],[-114.035,37.497,-.05],[-113.929,37.497,-.25],[-113.957,37.402,.5],[-114.05,37.395,-.02],[-114.099,37.31,.2],[-114.142,37.254,.05],[-114.014,37.3,-.3],[-113.833,37.378,.55],[-113.854,37.398,-.2],[-113.829,37.327,-.2],[-113.769,37.339,.05],[-113.616,37.334,.35],[-113.642,37.279,.3],[-113.446,37.317,.3],[-113.429,37.276,-.3],[-113.365,37.229,-.05],[-113.414,37.166,.2],[-113.578,37.174,.25],[-113.546,37.169,.1],[-113.982,37.164,.6],[-114.029,37.169,.2],[-113.865,37.11,.02],[-114.089,37.05,-.1],[-114.057,37.033,.2],[-113.748,37.042,.05],[-113.567,37.025,-.55],[-113.525,36.949,.1],[-113.637,36.94,.3],[-113.625,36.889,-.5],[-113.446,36.869,.45],[-113.701,36.869,.55],[-113.567,36.852,.2],[-113.822,36.864,-.2],[-113.652,36.83,-.25],[-113.503,36.821,-.2],[-113.78,36.813,.05],[-113.716,37.576,.05],[-113.652,37.534,-.25],[-113.578,37.576,-.4],[-113.631,37.61,.1],[-113.722,37.466,-.3],[-113.76,37.47,.1],[-113.769,37.486,.4]];

const inducedEvents: number[][] = [[-111.276,42.357,-.2],[-111.15,42.326,.55],[-109.875,42.023,.5],[-109.726,41.725,.02],[-109.724,41.723,.35],[-110.99,41.814,-.2],[-110.99,41.727,-.05],[-110.883,41.81,-.2],[-111.054,41.634,-.1],[-110.69,41.886,-.25],[-110.73,41.87,-.35],[-110.66,41.86,-.5],[-110.62,41.87,-.3],[-110.56,41.84,-.45],[-110.7,41.8,-.55],[-110.76,41.78,-.3],[-110.83,41.74,-.4],[-110.77,41.71,-.5],[-110.7,41.74,-.2],[-110.66,41.74,-.35],[-110.58,41.74,-.05],[-110.53,41.77,.05],[-110.5,41.74,.1],[-110.45,41.8,-.05],[-110.42,41.83,.05],[-110.35,41.85,.1],[-110.3,41.85,-.1],[-110.34,41.76,.05],[-110.77,41.66,-.4],[-110.7,41.62,-.45],[-110.66,41.68,-.7],[-110.73,41.69,-.25],[-110.6,41.72,.02],[-110.56,41.66,.05],[-110.67,41.63,-.1],[-110.6,41.66,-.05],[-110.85,41.75,-.45],[-110.8,41.77,-.2],[-110.74,41.64,.05],[-110.73,41.84,-.45],[-110.68,41.84,-.5],[-110.59,41.86,-.45],[-110.55,41.86,-.4],[-110.6,41.83,-.55],[-110.82,41.79,-.5],[-110.78,41.75,-.4],[-110.72,41.79,-.3],[-110.66,41.81,-.4],[-110.75,41.74,-.05],[-110.62,41.78,-.1],[-110.54,41.81,-.2],[-110.49,41.84,-.1],[-110.38,41.87,-.45],[-110.32,41.93,.3],[-110.24,41.97,-.2],[-110.24,41.95,-.15],[-110.15,41.92,-.35],[-110.33,41.89,.4],[-110.24,41.89,.05],[-110.24,41.84,.2],[-110.25,41.81,.05],[-110.3,41.8,-.05],[-110.4,41.78,-.1],[-110.48,41.77,.25],[-110.42,41.73,.25],[-110.47,41.72,-.1],[-110.25,41.68,-.05],[-110.63,41.71,-.3],[-110.62,41.69,-.1],[-110.68,41.68,-.6],[-110.57,41.68,.05],[-110.76,41.67,-.35],[-110.72,41.66,-.3],[-110.75,41.62,-.05],[-110.64,41.65,-.35],[-110.53,41.66,-.1],[-110.59,41.59,.3],[-110.87,41.72,-.4],[-110.8,41.72,-.3],[-109.15,41.82,-.2],[-108.96,41.77,-.45],[-108.92,41.75,-.4],[-108.95,41.71,-.7],[-108.92,41.68,-.05],[-108.96,41.58,-.5],[-108.93,41.55,.05],[-110.84,41.44,-.5],[-110.66,41.42,.2],[-110.77,41.35,.55],[-109.77,41.21,-.9],[-109.67,40.99,-.4],[-112.29,41.6,-.25],[-112.26,41.6,-.2],[-112.22,41.59,.55],[-111.92,41.52,-.3],[-111.93,41.56,.2],[-112.05,41.38,-.4],[-112.04,41.37,-.35],[-112.02,41.35,-.45],[-112.01,41.34,-.5],[-112.91,41.21,-.05],[-112.92,41.16,.02],[-112.92,41.14,.02],[-112.91,41.13,.02],[-111.58,41.12,-.35],[-111.56,41.08,-.5],[-111.5,41.07,-.3],[-111.67,41.06,.2],[-111.65,41.05,-.4],[-111.85,40.83,.02],[-111.89,40.79,.02],[-111.84,40.81,-.02],[-111.93,40.85,-.8],[-111.96,40.78,-.6],[-111.93,40.8,-.9],[-111.88,40.82,-.75],[-111.91,40.84,-.85],[-111.89,40.81,-.7],[-111.95,40.79,-.85],[-111.9,40.83,-.7],[-111.91,40.82,-.75],[-111.98,40.72,-.05],[-111.77,40.73,-.35],[-111.79,40.72,.02],[-111.8,40.715,.05],[-111.43,40.69,-.9],[-111.49,40.63,-.45],[-111.53,40.62,-.5],[-112.15,40.67,.2],[-112.59,40.73,.45],[-112.42,40.45,-.7],[-112.28,40.4,.2],[-112.24,40.47,.4],[-112.27,40.48,-.45],[-112.25,40.46,-.8],[-112.22,40.48,-.5],[-112.16,40.57,-.3],[-112.1,40.56,-.3],[-112.2,40.56,-.4],[-112.18,40.55,-.6],[-112.21,40.53,-.6],[-112.2,40.52,-.5],[-112.17,40.53,-.3],[-112.16,40.52,-.7],[-112.19,40.54,-.1],[-112.18,40.5,-.2],[-112.2,40.5,.05],[-112.16,40.5,-.02],[-112.15,40.52,.02],[-112.19,40.51,-.85],[-112.14,40.49,-.5],[-112.12,40.45,-.5],[-112.08,40.52,-.3],[-112.1,40.5,-.4],[-112.06,40.47,-.3],[-112.02,40.45,-.2],[-112,40.5,-.3],[-112,40.48,-.2],[-111.99,40.47,-.15],[-111.97,40.46,-.25],[-111.89,40.48,-.5],[-111.88,40.47,-.4],[-111.9,40.46,-.3],[-111.86,40.45,-.25],[-111.91,40.45,-.35],[-112.02,40.43,-.7],[-112,40.42,-.8],[-111.95,40.41,-.6],[-111.98,40.4,.02],[-111.97,40.4,-.05],[-111.96,40.39,-.05],[-112.19,40.5,.05],[-112.18,40.53,.05],[-112.17,40.52,.35],[-113.53,40.44,-.05],[-113.24,40.2,.05],[-113.25,40.22,-.3],[-111.97,40.24,-.35],[-111.97,40.22,-.5],[-111.9,40.22,-.15],[-111.85,40.25,-.3],[-111.75,40,.02],[-111.8,40.01,-.45],[-111.81,39.99,-.3],[-111.81,40,-.5],[-111.8,40,-.6],[-113.25,39.73,.2],[-112.08,39.72,-.05],[-112.1,39.745,-.3],[-112.16,39.62,-.1],[-112.205,39.62,-.2],[-112.25,39.55,-.1],[-112.2,39.56,-.05],[-112.19,39.57,.02],[-112.22,39.53,-.3],[-110.41,39.53,.2],[-112.93,38.99,.3],[-112.92,38.97,.3],[-112.89,38.93,.3],[-112.91,38.94,.2],[-113.07,38.5,.4],[-113.06,38.47,.1],[-113.06,38.46,.02],[-113.06,38.44,-.2],[-113.39,37.62,-.5],[-113.36,37.63,.05],[-113.25,37.7,-.3],[-113.23,37.69,-.35],[-113.16,37.73,-.2],[-112.45,37.44,-.7],[-112.47,37.41,-.45],[-112.44,37.37,-.2],[-112.46,37.38,.05],[-109.15,38.45,-.85],[-109.12,38.25,-.9],[-109.1,38.18,-.3],[-109.12,38.13,-.4],[-109.12,38.1,-.4],[-109.14,38.08,-.5],[-109.09,38.14,-.5],[-109.08,37.95,-.25],[-110.66,36.89,-.3],[-113.54,37.05,-.4],[-113.57,37.03,-.25],[-113.53,37.03,-.3],[-113.61,37.01,-.3],[-113.51,37,-.3],[-113.58,37,-.35],[-113.56,36.97,-.2],[-113.6,36.96,-.2],[-113.52,36.98,-.4],[-113.63,36.93,-.4],[-113.64,36.92,-.35],[-113.65,36.9,-.3],[-113.55,37.04,-.5],[-113.55,37.02,-.7],[-109.41,40.69,-.6],[-109.47,40.67,-.4],[-109.49,40.69,-.5],[-109.5,40.66,-.5],[-109.53,40.68,-.45],[-109.55,40.65,-.4],[-109.58,40.66,-.45],[-109.57,40.63,-.55],[-109.44,40.65,-.3],[-109.47,40.63,-.2],[-109.53,40.64,-.4],[-109.51,40.6,-.3],[-109.58,40.6,-.5],[-109.56,40.58,-.45],[-109.54,40.58,-.4],[-109.48,40.58,-.3],[-109.52,40.56,-.25],[-109.49,40.54,-.35],[-109.55,40.61,-.2],[-109.5,40.63,-.15],[-109.47,40.61,-.05],[-109.3,40.66,-.35],[-109.21,40.48,-.2]];

const tectonicEvents = [...tectonicNorth, ...tectonicNorthExtra, ...tectonicCentral, ...tectonicCentralExtra, ...tectonicSouth, ...tectonicSouthExtra];
const allEvents = [...tectonicEvents, ...inducedEvents];

const FONT = "Liberation Sans";
const TEXT = "#222";
const mercator = (lat: number) => (Math.log(Math.tan(Math.PI / 4 + (lat * Math.PI) / 360)) * 180) / Math.PI;
const inverseMercator = (y: number) => ((2 * Math.atan(Math.exp((y * Math.PI) / 180)) - Math.PI / 2) * 180) / Math.PI;

const bandColor = (v: number) => {
  const i = Math.min(19, Math.max(0, Math.floor((v + 1) * 10 + 1e-6)));
  const mid = -0.95 + i * 0.1;
  const c = Math.round(255 * (1 - Math.abs(mid)));
  return mid > 0 ? `rgb(255,${c},${c})` : `rgb(${c},${c},255)`;
};

const panels = [
  { left: 91, width: 830, events: allEvents, showLat: true, bar: [117, 301], barLabel: 209, lastPad: 20 },
  { left: 959.5, width: 830, events: tectonicEvents, showLat: false, bar: [988, 1171.5], barLabel: 1080, lastPad: 12 },
  { left: 1828.5, width: 830, events: inducedEvents, showLat: false, bar: [1864, 2047.5], barLabel: 1955.5, lastPad: 4 },
];
const TOP = 29;
const HEIGHT = 1155;
const LON_MIN = -114.2;
const LON_PER_PX = 1 / 156.6;

const shapes = [
  { pts: greatSaltLake, fill: "#b0e0ec", w: 2 },
  { pts: saltLakeIsland, fill: "#ffffff", w: 1.5 },
  { pts: lakePowell, fill: "#b0e0ec", w: 2 },
  { pts: flamingGorge, fill: "#b0e0ec", w: 2 },
  { pts: smallReservoir, fill: "#b0e0ec", w: 1.5 },
];
const borders = [
  { pts: borderNorth, w: 2.5 },
  { pts: borderWyomingWest, w: 2.5 },
  { pts: borderWyomingSouth, w: 2.5 },
  { pts: borderWest, w: 1.8 },
  { pts: borderEast, w: 1.8 },
  { pts: borderSouth, w: 2 },
];

function buildOption() {
  const grid: any[] = [];
  const xAxis: any[] = [];
  const yAxis: any[] = [];
  const series: any[] = [];
  const graphic: any[] = [
    { type: "rect", shape: { x: 0, y: 0, width: 2, height: 1259 }, style: { fill: "#c9243f" } },
  ];
  const latTickVals = latTicks.map(mercator);

  panels.forEach((p, i) => {
    grid.push({ left: p.left, top: TOP, width: p.width, height: HEIGHT });
    const lonMax = LON_MIN + p.width * LON_PER_PX;
    const line = { show: true, onZero: false, lineStyle: { color: "#000", width: 2.6 } };
    const tick = { show: true, length: 11, inside: false, customValues: lonTicks, lineStyle: { color: "#333", width: 1 } };
    const latTick = { ...tick, customValues: latTickVals };
    xAxis.push({
      gridIndex: i, type: "value", position: "bottom", min: LON_MIN, max: lonMax, z: 10, axisLine: line, axisTick: tick, splitLine: { show: false },
      axisLabel: {
        show: true, customValues: lonTicks, margin: 29, fontFamily: FONT, fontSize: 30, color: TEXT,
        rich: { last: { padding: [0, p.lastPad, 0, 0], fontFamily: FONT, fontSize: 30, color: TEXT } },
        formatter: (v: number) => {
          const s = `\u2212${Math.abs(Math.round(v))}\u00b0`;
          return Math.round(v) === -109 ? `{last|${s}}` : s;
        },
      },
    });
    xAxis.push({
      gridIndex: i, type: "value", position: "top", min: LON_MIN, max: lonMax, z: 10, axisLine: line, axisTick: tick, splitLine: { show: false }, axisLabel: { show: false },
    });
    yAxis.push({
      gridIndex: i, type: "value", position: "left", min: mercator(36.8), max: mercator(42.5), z: 10, axisLine: line, axisTick: latTick, splitLine: { show: false },
      axisLabel: {
        show: p.showLat, customValues: latTickVals, margin: 27, fontFamily: FONT, fontSize: 30, color: TEXT,
        formatter: (v: number) => `${Math.round(inverseMercator(v))}\u00b0`,
      },
    });
    yAxis.push({
      gridIndex: i, type: "value", position: "right", min: mercator(36.8), max: mercator(42.5), z: 10, axisLine: line, axisTick: latTick, splitLine: { show: false }, axisLabel: { show: false },
    });
    const xi = i * 2;
    const yi = i * 2;
    series.push({
      type: "custom", xAxisIndex: xi, yAxisIndex: yi, clip: true, z: 2, silent: true,
      data: shapes.map((_, k) => [k]),
      renderItem: (_: any, api: any) => {
        const s = shapes[api.value(0)];
        return {
          type: "polygon",
          shape: { points: s.pts.map((q) => api.coord([q[0], mercator(q[1])])) },
          style: { fill: s.fill, stroke: "#000", lineWidth: s.w },
        };
      },
    });
    series.push({
      type: "custom", xAxisIndex: xi, yAxisIndex: yi, clip: true, z: 2, silent: true,
      data: borders.map((_, k) => [k]),
      renderItem: (_: any, api: any) => {
        const s = borders[api.value(0)];
        return {
          type: "polyline",
          shape: { points: s.pts.map((q) => api.coord([q[0], mercator(q[1])])) },
          style: { fill: "none", stroke: "#000", lineWidth: s.w },
        };
      },
    });
    series.push({
      type: "scatter", xAxisIndex: xi, yAxisIndex: yi, clip: true, z: 3, silent: true, symbol: "circle", symbolSize: 14.2,
      data: p.events.map((e) => [e[0], mercator(e[1]), e[2]]),
      itemStyle: { color: (d: any) => bandColor(d.data[2]), borderColor: "#111", borderWidth: 1.3, opacity: 1 },
    });
    const [a, b] = p.bar;
    graphic.push({
      type: "polyline", shape: { points: [[a, 113], [a, 102], [b, 102], [b, 113]] }, style: { fill: "none", stroke: "#333", lineWidth: 1.2 }, z: 20,
    });
    graphic.push({
      type: "text", x: p.barLabel, y: 72, z: 20,
      style: { text: "100 km", font: `22px "${FONT}"`, fill: TEXT, align: "center", verticalAlign: "middle" },
    });
  });

  // colour bar
  const cbi = panels.length;
  grid.push({ left: 2694, top: 309, width: 21, height: 627 });
  const cbLine = { show: true, onZero: false, lineStyle: { color: "#000", width: 2.6 } };
  xAxis.push({ gridIndex: cbi, type: "value", position: "bottom", min: 0, max: 1, z: 10, axisLine: cbLine, axisTick: { show: false }, axisLabel: { show: false }, splitLine: { show: false } });
  xAxis.push({ gridIndex: cbi, type: "value", position: "top", min: 0, max: 1, z: 10, axisLine: cbLine, axisTick: { show: false }, axisLabel: { show: false }, splitLine: { show: false } });
  yAxis.push({
    gridIndex: cbi, type: "value", position: "right", min: -1, max: 1, interval: 0.5, z: 10, axisLine: cbLine, splitLine: { show: false },
    axisTick: { show: true, length: 18, lineStyle: { color: "#333", width: 1 } },
    minorTick: { show: true, splitNumber: 2, length: 8, lineStyle: { color: "#333", width: 1 } },
    axisLabel: {
      show: true, customValues: colorbarTicks, margin: 70, align: "right", verticalAlign: "bottom", lineHeight: 22,
      fontFamily: FONT, fontSize: 30, color: TEXT,
      formatter: (v: number) => (v < 0 ? `\u2212${Math.abs(v).toFixed(1)}` : v.toFixed(1)),
    },
  });
  yAxis.push({ gridIndex: cbi, type: "value", position: "left", min: -1, max: 1, z: 10, axisLine: cbLine, axisTick: { show: false }, axisLabel: { show: false }, splitLine: { show: false } });
  series.push({
    type: "custom", xAxisIndex: cbi * 2, yAxisIndex: cbi * 2, z: 2, silent: true, clip: true,
    data: colorbarEdges.slice(0, -1).map((e, k) => [0, e, colorbarEdges[k + 1]]),
    renderItem: (_: any, api: any) => {
      const p0 = api.coord([0, api.value(2)]);
      const p1 = api.coord([1, api.value(1)]);
      return {
        type: "rect",
        shape: { x: p0[0], y: p0[1], width: p1[0] - p0[0], height: p1[1] - p0[1] + 0.5 },
        style: { fill: bandColor((api.value(1) + api.value(2)) / 2) },
      };
    },
  });

  const rot = -Math.PI / 2;
  const titlePart = (text: string, x: number, y: number, size: number) => ({
    type: "text", x, y, rotation: rot, z: 20,
    style: { text, font: `${size}px "${FONT}"`, fill: TEXT, align: "center", verticalAlign: "middle" },
  });
  graphic.push(titlePart("M", 2827, 576, 34));
  graphic.push(titlePart("L", 2810, 596, 20));
  graphic.push(titlePart("\u2212", 2824, 627, 30));
  graphic.push(titlePart("M", 2827, 658, 34));
  graphic.push(titlePart("C", 2810, 681, 20));

  return { animation: false, backgroundColor: "#fff", grid, xAxis, yAxis, series, graphic };
}

export default function App() {
  const ref = useRef<HTMLDivElement>(null);
  useEffect(() => {
    document.body.style.margin = "0";
    const chart = echarts.init(ref.current!, undefined, { renderer: "svg" });
    chart.setOption(buildOption() as any);
    return () => chart.dispose();
  }, []);
  return <div ref={ref} style={{ position: "absolute", left: 0, top: 0, width: 2846, height: 1259 }} />;
}
